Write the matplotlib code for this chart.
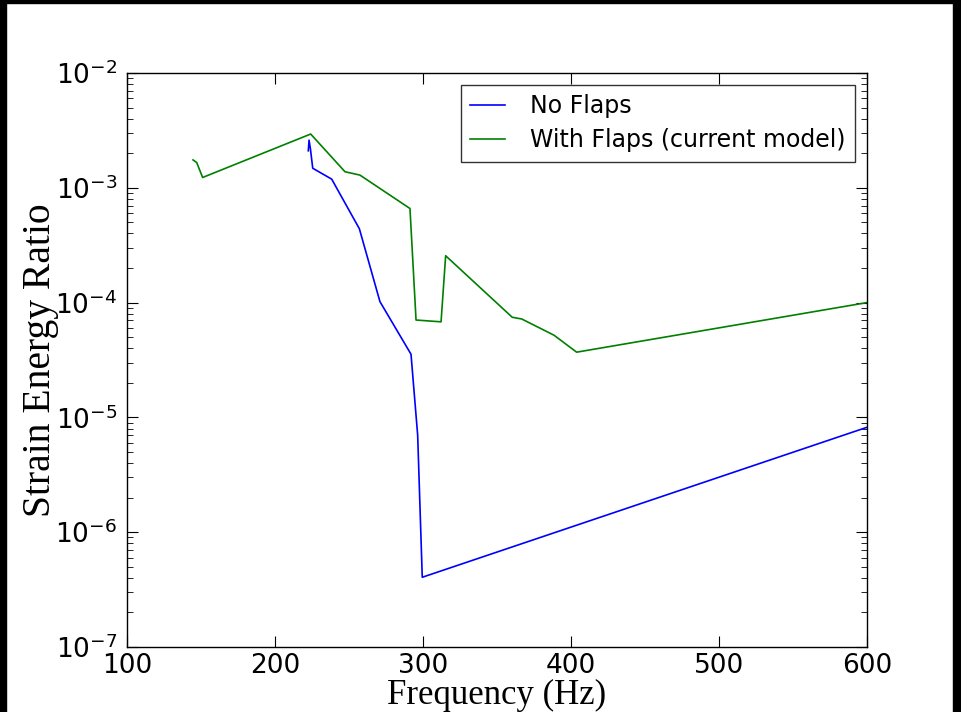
import matplotlib
matplotlib.use("Agg")
import matplotlib.pyplot as plt
from matplotlib.patches import Rectangle
from matplotlib.ticker import LogLocator, FixedLocator, FuncFormatter, NullFormatter
import numpy as np

# Data
no_flaps_freq = [222.5, 223.0, 223.9, 225.5, 238.3, 257.0, 270.9, 291.9, 296.4, 299.5, 600.0]
no_flaps_ratio = [2.1e-3, 2.6e-3, 2.2e-3, 1.48e-3, 1.19e-3, 4.4e-4, 1.02e-4, 3.55e-5, 7.0e-6, 4.05e-7, 8.2e-6]

flaps_freq = [144.6, 147.1, 151.1, 224.1, 247.3, 257.4, 291.2, 295.3, 312.2, 315.3,
              360.3, 366.7, 388.5, 403.8, 600.0]
flaps_ratio = [1.75e-3, 1.66e-3, 1.23e-3, 2.94e-3, 1.38e-3, 1.29e-3, 6.6e-4, 7.05e-5, 6.8e-5, 2.56e-4,
               7.45e-5, 7.2e-5, 5.2e-5, 3.7e-5, 1.0e-4]

x_ticks = [100, 200, 300, 400, 500, 600]
y_exps = [-7, -6, -5, -4, -3, -2]

series_labels = ["No Flaps", "With Flaps (current model)"]

W, H = 961, 712
fig = plt.figure(figsize=(W / 100, H / 100), dpi=100)
fig.patch.set_facecolor("white")

ax = fig.add_axes([127 / W, 1 - 647 / H, 740 / W, 574 / H])

ax.plot(no_flaps_freq, no_flaps_ratio, color="#0000ff", lw=1.2, label=series_labels[0])
ax.plot(flaps_freq, flaps_ratio, color="#008000", lw=1.2, label=series_labels[1])

ax.set_yscale("log")
ax.set_xlim(100, 600)
ax.set_ylim(10.0 ** y_exps[0], 10.0 ** y_exps[-1])

ax.xaxis.set_major_locator(FixedLocator(x_ticks))
ax.yaxis.set_major_locator(FixedLocator([10.0 ** e for e in y_exps]))
ax.yaxis.set_minor_locator(LogLocator(base=10, subs=np.arange(2, 10), numticks=20))
ax.yaxis.set_minor_formatter(NullFormatter())
ax.yaxis.set_major_formatter(FuncFormatter(
    lambda v, p: r"$\mathregular{10^{%d}}$" % int(round(np.log10(v)))))

ax.tick_params(which="both", direction="in", top=True, right=True)
ax.tick_params(which="major", length=8, width=0.8, labelsize=19)
ax.tick_params(axis="x", which="major", pad=4)
ax.tick_params(axis="y", which="major", pad=7)
ax.tick_params(which="minor", length=4, width=0.6)
for lab in ax.get_xticklabels() + ax.get_yticklabels():
    lab.set_family("DejaVu Sans")

for s in ax.spines.values():
    s.set_linewidth(1.0)
    s.set_color("black")

ax.set_xlabel("Frequency (Hz)", family="Liberation Serif", fontsize=25, labelpad=0)
ax.set_ylabel("Strain Energy Ratio", family="Liberation Serif", fontsize=28.5, labelpad=-3)

leg = ax.legend(loc="upper right", fancybox=False, frameon=True,
                prop={"family": "DejaVu Sans", "size": 17},
                borderaxespad=0.5, borderpad=0.4, handlelength=1.5,
                handletextpad=1.05, labelspacing=0.42)
leg.get_frame().set_edgecolor("black")
leg.get_frame().set_linewidth(1.0)

# black border strips of the reference screenshot
fig.patches.append(Rectangle((0, 1 - 3 / H), 1, 3 / H, transform=fig.transFigure,
                             color="black", zorder=10))
fig.patches.append(Rectangle((0, 0), 6 / W, 1, transform=fig.transFigure,
                             color="black", zorder=10))
fig.patches.append(Rectangle((1 - 8 / W, 0), 8 / W, 1, transform=fig.transFigure,
                             color="black", zorder=10))

fig.savefig("out.png", dpi=100)
